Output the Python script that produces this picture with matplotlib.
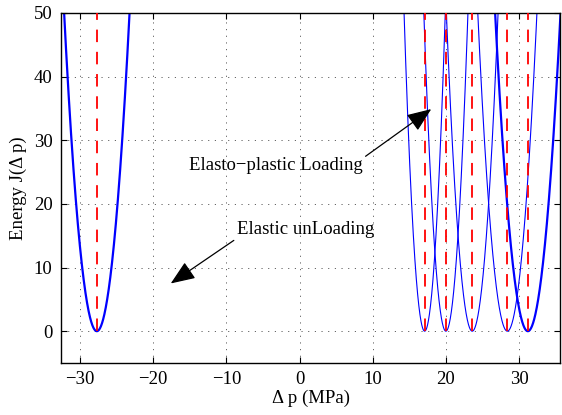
import matplotlib
matplotlib.use("Agg")
import matplotlib.pyplot as plt
import numpy as np

plt.rcParams['font.family'] = ['Liberation Serif', 'DejaVu Serif']
plt.rcParams['font.size'] = 13.5
plt.rcParams['lines.scale_dashes'] = False

# energy wells J = k * (dp - dp0)^2 : centre (MPa) and stiffness of each well
centres = [-27.7, 17.1, 20.0, 23.6, 28.4, 31.2]
stiffness = [2.5, 6.3, 5.5, 4.0, 3.06, 2.5]
elastic = [True, False, False, False, False, True]

x_ticks = [-30, -20, -10, 0, 10, 20, 30]
y_ticks = [0, 10, 20, 30, 40, 50]
x_range = (-32.6, 35.6)
y_range = (-5, 50)

fig = plt.figure(figsize=(5.62, 4.15), dpi=100)
ax = fig.add_axes([0.1085, 0.1253, 0.888, 0.8434])

for c, k, el in zip(centres, stiffness, elastic):
    half = np.sqrt(56.0 / k)
    dp = np.linspace(c - half, c + half, 400)
    ax.plot(dp, k * (dp - c) ** 2, color='blue', lw=1.6 if el else 0.8, zorder=2)

for c in centres:
    ax.plot([c, c], [0, 50], color='red', lw=1.3, dashes=(9, 7), zorder=3)

ax.set_xlim(*x_range)
ax.set_ylim(*y_range)
ax.set_xticks(x_ticks)
ax.set_yticks(y_ticks)
ax.grid(True, color='0.25', lw=0.6, dashes=(0.8, 4))
ax.tick_params(direction='in', length=4, width=0.8, top=True, right=True, pad=6)
for s in ax.spines.values():
    s.set_linewidth(1.0)

ax.set_xlabel('\u0394 p (MPa)', labelpad=1)
ax.set_ylabel('Energy J(\u0394 p)', labelpad=5)

arrow = dict(arrowstyle='-|>,head_length=1.0,head_width=0.4', color='k', lw=0.9,
             shrinkA=0, shrinkB=0, mutation_scale=15)
ax.annotate('Elasto\u2212plastic Loading', xy=(18.0, 34.9), xytext=(-15.1, 26.1),
            ha='left', va='center', arrowprops=dict(arrow, relpos=(1.0, 0.9)))
ax.annotate('Elastic unLoading', xy=(-17.6, 7.5), xytext=(-8.6, 15.9),
            ha='left', va='center', arrowprops=dict(arrow, relpos=(0.0, 0.0)))

fig.savefig('out.png', dpi=100)
